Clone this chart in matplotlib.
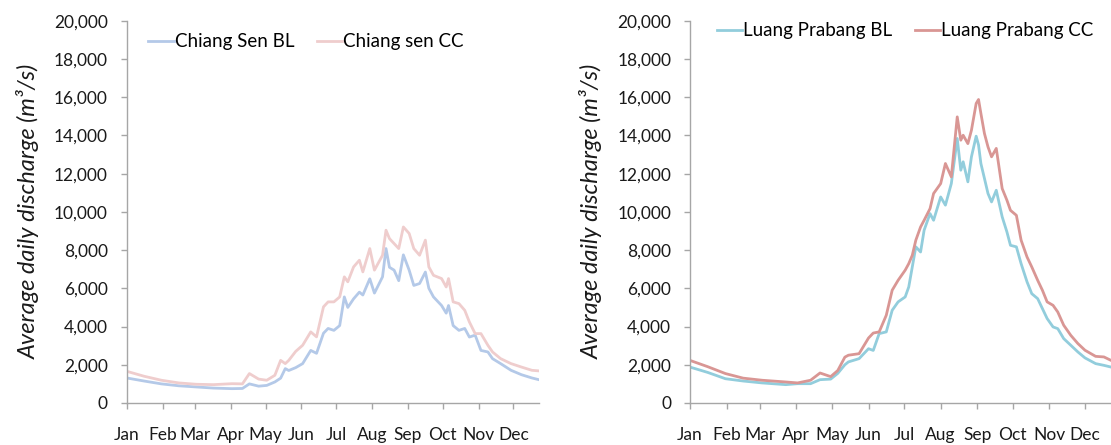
import matplotlib
matplotlib.use("Agg")
import matplotlib.pyplot as plt
from matplotlib.ticker import FuncFormatter

plt.rcParams['font.family'] = ['Lato', 'DejaVu Sans']

# day of year for each reading, and discharge values (m3/s)
cs_day = [0, 15, 30, 45, 60, 75, 91, 100, 106, 114, 121, 128, 133, 137, 140, 146, 152, 159, 164, 170,
          174, 179, 184, 188, 191, 196, 201, 204, 210, 214, 221, 224, 227, 231, 235, 239, 244, 248, 253, 258,
          261, 265, 272, 276, 278, 282, 287, 292, 296, 301, 306, 312, 316, 323, 332, 341, 350, 356]
cs_bl = [1310, 1150, 1000, 900, 840, 780, 750, 760, 1000, 880, 920, 1100, 1300, 1800, 1700, 1850, 2060, 2750, 2600, 3650,
         3900, 3800, 4050, 5550, 5000, 5450, 5800, 5650, 6500, 5750, 6600, 8080, 7100, 6950, 6400, 7750, 6950, 6150, 6250, 6850,
         6000, 5550, 5100, 4700, 5100, 4050, 3800, 3900, 3450, 3550, 2750, 2670, 2320, 2060, 1710, 1480, 1310, 1220]
cs_cc = [1660, 1400, 1190, 1050, 980, 960, 1010, 1000, 1540, 1250, 1190, 1450, 2230, 2060, 2230, 2700, 3020, 3720, 3460, 5030,
         5290, 5290, 5550, 6600, 6340, 7120, 7470, 6860, 8080, 6950, 7730, 9040, 8600, 8340, 8080, 9210, 8870, 8080, 7730, 8520,
         7120, 6680, 6510, 6070, 6510, 5290, 5200, 4850, 4240, 3630, 3630, 3020, 2670, 2320, 2060, 1880, 1710, 1680]

lp_day = [0, 15, 30, 45, 61, 81, 91, 102, 110, 119, 125, 131, 134, 143, 151, 155, 160, 166, 171, 176,
          182, 185, 188, 191, 195, 198, 203, 206, 212, 216, 221, 226, 229, 231, 235, 238, 242, 244, 246, 249,
          252, 255, 259, 264, 268, 271, 276, 280, 285, 289, 294, 298, 302, 307, 311, 316, 322, 328, 334, 343,
          350, 356]
lp_bl = [1880, 1600, 1270, 1150, 1050, 960, 1010, 1010, 1220, 1250, 1550, 2000, 2150, 2320, 2840, 2750, 3630, 3720, 4850, 5290,
         5550, 6070, 7120, 8170, 7900, 9040, 9910, 9560, 10780, 10350, 11480, 13840, 12180, 12620, 11570, 12880, 13960, 13500, 12530, 11750,
         10960, 10520, 11130, 9740, 8950, 8250, 8170, 7290, 6340, 5720, 5460, 4940, 4420, 3980, 3890, 3370, 3020, 2670, 2360, 2060,
         1970, 1880]
lp_cc = [2230, 1900, 1540, 1300, 1190, 1100, 1050, 1190, 1570, 1380, 1700, 2400, 2500, 2580, 3400, 3660, 3720, 4590, 5900, 6420,
         6950, 7290, 7730, 8520, 9210, 9560, 10170, 10960, 11480, 12530, 11830, 14970, 13750, 14010, 13570, 14270, 15670, 15880, 15150, 14100,
         13400, 12880, 13320, 11220, 10610, 10080, 9820, 8520, 7640, 7120, 6420, 5900, 5290, 5110, 4760, 4070, 3540, 3110, 2760, 2440,
         2410, 2230]

month_start = [0, 31, 59, 90, 120, 151, 181, 212, 243, 273, 304, 334]
month_names = ['Jan', 'Feb', 'Mar', 'Apr', 'May', 'Jun', 'Jul', 'Aug', 'Sep', 'Oct', 'Nov', 'Dec']

fig = plt.figure(figsize=(11.11, 4.45), dpi=100)
ax1 = fig.add_axes([0.114, 0.0944, 0.371, 0.859])
ax2 = fig.add_axes([0.621, 0.0944, 0.379, 0.859])


def style(ax):
    ax.set_xlim(0, 356)
    ax.set_ylim(0, 20000)
    ax.set_yticks(range(0, 20001, 2000))
    ax.yaxis.set_major_formatter(FuncFormatter(lambda v, p: f'{int(v):,}'))
    ax.set_xticks(month_start)
    ax.set_xticklabels(month_names)
    for s in ['top', 'right']:
        ax.spines[s].set_visible(False)
    for s in ['left', 'bottom']:
        ax.spines[s].set_color('#a6a6a6')
        ax.spines[s].set_linewidth(1.0)
    ax.tick_params(axis='both', colors='#a6a6a6', labelcolor='#1a1a1a', length=4.5, width=1.0, labelsize=12.5)
    ax.tick_params(axis='x', pad=13)
    ax.tick_params(axis='y', pad=9)
    ax.set_ylabel('Average daily discharge (m³/s)', fontsize=17, style='italic', color='#1a1a1a')


ax1.plot(cs_day, cs_bl, color='#b4c9e8', lw=2, label='Chiang Sen BL')
ax1.plot(cs_day, cs_cc, color='#efcdcd', lw=2, label='Chiang sen CC')
style(ax1)
ax1.yaxis.set_label_coords(-0.211, 0.5)
ax1.legend(loc='center left', bbox_to_anchor=(0.053, 0.945), ncol=2, frameon=False, fontsize=13.5,
           handlelength=1.35, handletextpad=0.05, columnspacing=1.2, borderpad=0, borderaxespad=0)

ax2.plot(lp_day, lp_bl, color='#92cddc', lw=2, label='Luang Prabang BL')
ax2.plot(lp_day, lp_cc, color='#d99694', lw=2, label='Luang Prabang CC')
style(ax2)
ax2.yaxis.set_label_coords(-0.207, 0.5)
ax2.legend(loc='center left', bbox_to_anchor=(0.064, 0.974), ncol=2, frameon=False, fontsize=13.5,
           handlelength=1.35, handletextpad=0.05, columnspacing=1.2, borderpad=0, borderaxespad=0)

fig.savefig('out.png', dpi=100)
